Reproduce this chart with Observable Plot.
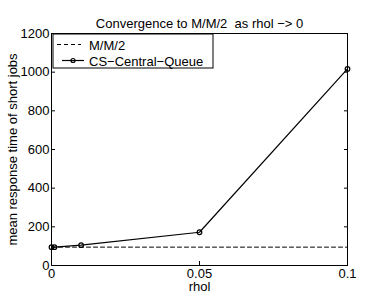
<!DOCTYPE html>
<html>
<head>
<meta charset="utf-8">
<script src="https://cdn.jsdelivr.net/npm/d3@7"></script>
<script src="https://cdn.jsdelivr.net/npm/@observablehq/plot@0.6"></script>
<style>
body{margin:0;background:#fff;}
#chart svg{font-family:"Liberation Sans",Arial,sans-serif;}
</style>
</head>
<body>
<div id="chart"></div>
<script>
const rhol = [0, 0.001, 0.01, 0.05, 0.1];
const csCentralQueue = [95, 95, 105, 172, 1017];
const mm2Value = 95;
const mm2Range = [0, 0.1];
const xTicks = [0, 0.05, 0.1];
const xTickLabels = ["0", "0.05", "0.1"];
const yTicks = [0, 200, 400, 600, 800, 1000, 1200];
const titleText = "Convergence to M/M/2  as rhol \u2212> 0";
const xLabel = "rhol";
const yLabel = "mean response time of short jobs";
const legendLabels = ["M/M/2", "CS\u2212Central\u2212Queue"];

const csData = rhol.map((r, i) => ({r, v: csCentralQueue[i]}));
const mm2Data = mm2Range.map(r => ({r, v: mm2Value}));

const FS = 13;
const plot = Plot.plot({
  width: 366,
  height: 292,
  marginLeft: 51,
  marginRight: 19,
  marginTop: 33,
  marginBottom: 27,
  style: {fontSize: FS + "px", fontFamily: "Liberation Sans, Arial, sans-serif", background: "#fff", overflow: "visible"},
  x: {domain: [0, 0.1]},
  y: {domain: [0, 1200]},
  marks: [
    Plot.axisX({anchor: "bottom", ticks: xTicks, tickFormat: (d, i) => xTickLabels[i], tickSize: 0, tickPadding: 3, label: null, fontSize: FS}),
    Plot.axisX({anchor: "bottom", ticks: xTicks, tickSize: -4, text: null, label: null}),
    Plot.axisX({anchor: "top", ticks: xTicks, tickSize: -4, text: null, label: null}),
    Plot.axisY({anchor: "left", ticks: yTicks, tickFormat: d => String(d), tickSize: 0, tickPadding: 2, label: null, fontSize: FS}),
    Plot.axisY({anchor: "left", ticks: yTicks, tickSize: -4, text: null, label: null}),
    Plot.axisY({anchor: "right", ticks: yTicks, tickSize: -4, text: null, label: null}),
    Plot.frame({stroke: "#000", strokeWidth: 1}),
    Plot.line(mm2Data, {x: "r", y: "v", stroke: "#000", strokeWidth: 1, strokeDasharray: "4,3"}),
    Plot.line(csData, {x: "r", y: "v", stroke: "#000", strokeWidth: 1.2}),
    Plot.dot(csData, {x: "r", y: "v", r: 2.3, stroke: "#000", strokeWidth: 1.2, fill: "none"}),
    Plot.text([titleText], {frameAnchor: "top", dy: -15, fontSize: FS, fill: "#000", textAnchor: "middle"}),
    Plot.text([xLabel], {frameAnchor: "bottom", dy: 25, fontSize: FS, fill: "#000", textAnchor: "middle"}),
    Plot.text([yLabel], {frameAnchor: "left", dx: -39, rotate: -90, fontSize: FS, fill: "#000", textAnchor: "middle"})
  ]
});

// Legend box inside the frame (top-left), as in the reference
const svg = d3.select(plot);
const lg = svg.append("g").attr("text-anchor", "start");
lg.append("rect").attr("x", 53).attr("y", 34).attr("width", 160).attr("height", 34)
  .attr("fill", "#fff").attr("stroke", "#000").attr("stroke-width", 1);
lg.append("line").attr("x1", 57).attr("x2", 81).attr("y1", 44.5).attr("y2", 44.5)
  .attr("stroke", "#000").attr("stroke-dasharray", "4,3");
lg.append("text").attr("x", 89).attr("y", 49.5).attr("font-size", FS).attr("fill", "#000").text(legendLabels[0]);
lg.append("line").attr("x1", 62).attr("x2", 84).attr("y1", 60.5).attr("y2", 60.5)
  .attr("stroke", "#000").attr("stroke-width", 1.2);
lg.append("circle").attr("cx", 73).attr("cy", 60.5).attr("r", 2).attr("fill", "none")
  .attr("stroke", "#000").attr("stroke-width", 1.2);
lg.append("text").attr("x", 89).attr("y", 65.5).attr("font-size", FS).attr("fill", "#000").text(legendLabels[1]);

document.getElementById("chart").appendChild(plot);
</script>
</body>
</html>
